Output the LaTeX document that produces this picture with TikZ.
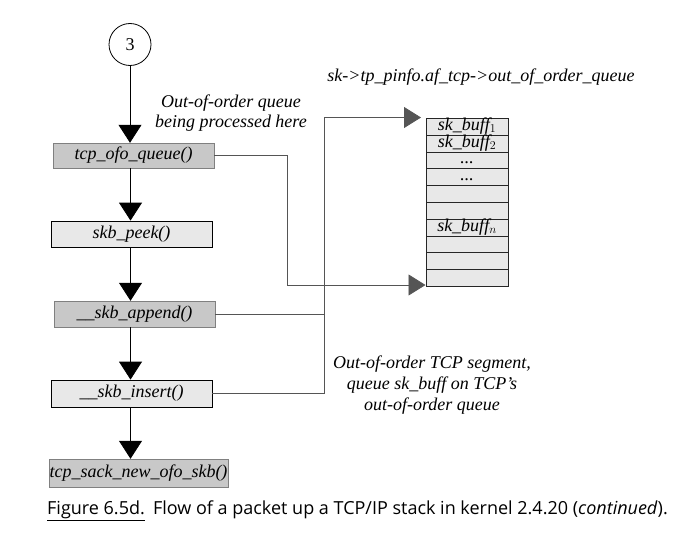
\documentclass[tikz,border=0pt]{standalone}
\usepackage{fontspec}
\setmainfont{Liberation Serif}
\newfontfamily\capfont{Open Sans}
\usetikzlibrary{arrows.meta}
\definecolor{darkbox}{RGB}{200,200,200}
\definecolor{lightbox}{RGB}{232,232,232}
\definecolor{linegray}{RGB}{85,85,85}
\tikzset{
  fn/.style={draw, rectangle, inner sep=0pt, font=\fontsize{18}{21}\selectfont\itshape},
  fndark/.style={fn, fill=darkbox, draw=gray},
  fnlight/.style={fn, fill=lightbox, draw=black, line width=0.8pt},
  flow/.style={draw=black, line width=0.8pt, -{Triangle[width=23pt,length=18pt]}},
  qline/.style={draw=linegray, line width=0.8pt},
  qarrow/.style={qline, -{Triangle[width=21pt,length=17pt]}},
  qrow/.style={draw=black!85, fill=lightbox, rectangle, minimum width=82pt, minimum height=16.8pt, inner sep=0pt, line width=0.7pt, font=\fontsize{18}{17}\selectfont\itshape},
  lbl/.style={align=center, inner sep=0pt, font=\fontsize{18}{20.5}\selectfont\itshape}
}
\begin{document}
\begin{tikzpicture}[x=1pt,y=-1pt]
\useasboundingbox (0,0) rectangle (692,538);
\node[draw, circle, minimum size=42pt, inner sep=0pt, line width=0.8pt, font=\fontsize{18}{20}\selectfont] (c3) at (130,44.5) {3};
\node[fndark, minimum width=161pt, minimum height=25pt] (b1) at (133.5,155.5) {tcp\_ofo\_queue()};
\node[fnlight, minimum width=161pt, minimum height=26pt] (b2) at (131.5,234) {skb\_peek()};
\node[fndark, minimum width=161pt, minimum height=26pt] (b3) at (134.5,314) {\_\_skb\_append()};
\node[fnlight, minimum width=161pt, minimum height=27pt] (b4) at (131.5,393.5) {\_\_skb\_insert()};
\node[fndark, minimum width=179pt, minimum height=28pt] (b5) at (138.5,473) {tcp\_sack\_new\_ofo\_skb()};

\coordinate (ax) at (130.5,0);
\draw[flow] (c3.south) -- (c3.south |- b1.north);
\draw[flow] (ax |- b1.south) -- (ax |- b2.north);
\draw[flow] (ax |- b2.south) -- (ax |- b3.north);
\draw[flow] (ax |- b3.south) -- (ax |- b4.north);
\draw[flow] (ax |- b4.south) -- (ax |- b5.north);

% queue
\foreach \i/\t in {1/{sk\_buff$_1$},2/{sk\_buff$_2$},3/{...},4/{...},5/{},6/{},7/{sk\_buff$_n$},8/{},9/{},10/{}}{
  \node[qrow, anchor=north] (q\i) at (467,{118+(\i-1)*16.8}) {\raisebox{1.5pt}[10pt][0pt]{\t}};
}

\coordinate (qin1) at (421,117.5);
\coordinate (qin2) at (425.5,285);
\coordinate (v1) at (287,0);
\coordinate (v2) at (324,0);
\draw[qarrow] (b1.east) -- (v1 |- b1.east) -- (v1 |- qin2) -- (qin2);
\draw[qarrow] (b4.east) -- (v2 |- b4.east) -- (v2 |- qin1) -- (qin1);
\draw[qline] (b3.east) -- (v2 |- b3.east);

\node[lbl] (t1) at (231,113) {Out-of-order queue\\being processed here};
\node[lbl, font=\fontsize{18}{21}\selectfont\itshape] (t2) at (481,77) {sk->tp\_pinfo.af\_tcp->out\_of\_order\_queue};
\node[lbl, font=\fontsize{18}{21}\selectfont\itshape] (t3) at (432,385.5) {Out-of-order TCP segment,\\queue sk\_buff on TCP's\\out-of-order queue};

\node[anchor=base west, inner sep=0pt, font=\capfont\fontsize{18}{21}\selectfont] (cap) at (47,514) {\underline{Figure 6.5d.}\hspace{0.45em}Flow of a packet up a TCP/IP stack in kernel 2.4.20 (\textit{continued}).};
\end{tikzpicture}
\end{document}
